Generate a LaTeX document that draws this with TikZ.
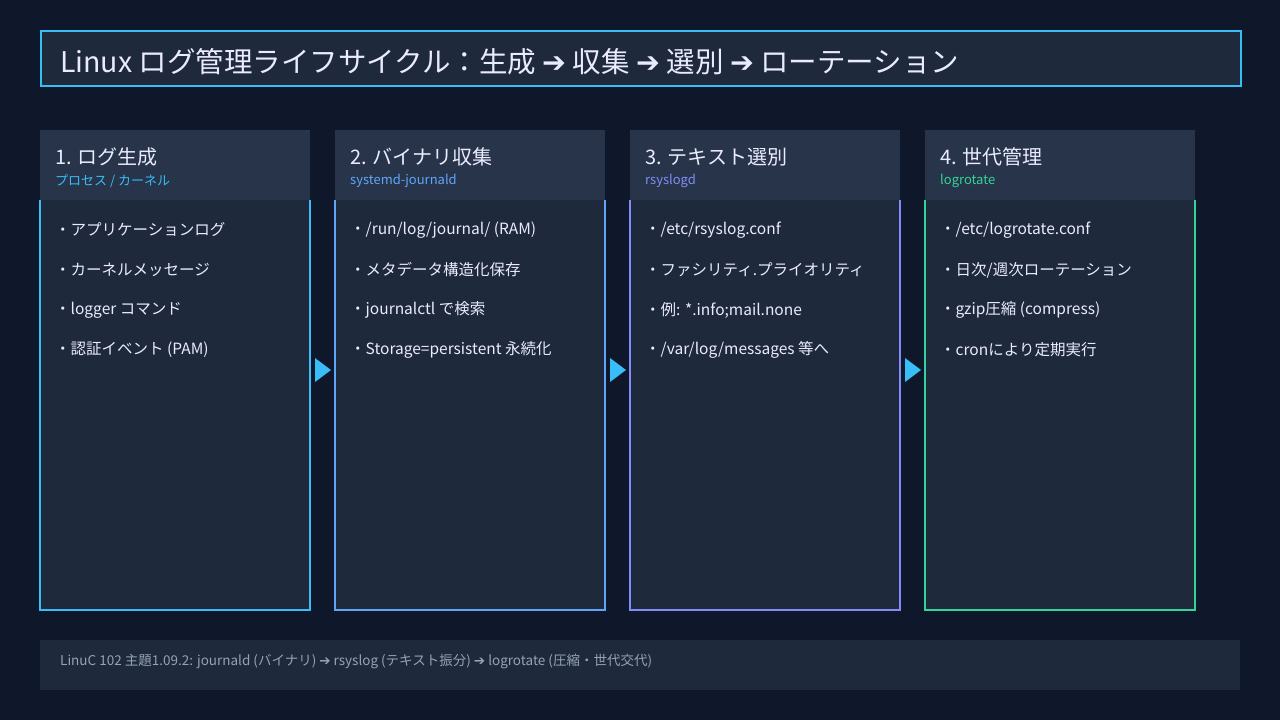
\documentclass[tikz,border=0pt]{standalone}
\usepackage{fontspec}
\setmainfont{Noto Sans CJK JP}
\newfontfamily\djv{DejaVu Sans}
\newcommand{\rarr}{{\djv ➔}}
\begin{document}
\begin{tikzpicture}[x=1pt,y=-1pt,
  txt/.style={anchor=west,inner sep=0pt,text=white!92!blue},
  hdr/.style={fill=hdrc,draw=none}]
\definecolor{bg}{HTML}{0F172A}
\definecolor{panel}{HTML}{1E293B}
\definecolor{hdrc}{HTML}{273449}
\definecolor{c1}{HTML}{38BDF8}
\definecolor{c2}{HTML}{60A5FA}
\definecolor{c3}{HTML}{818CF8}
\definecolor{c4}{HTML}{34D399}
\definecolor{gr}{HTML}{94A3B8}
\fill[bg] (0,0) rectangle (1280,720);
\useasboundingbox (0,0) rectangle (1280,720);
\node[draw=c1,line width=1.5pt,fill=panel,minimum width=1200pt,minimum height=55pt,anchor=north west,inner sep=0pt] (title) at (40,30) {};
\node[txt,font=\fontsize{28.5}{32}\selectfont] (tt) at (60,62) {Linux ログ管理ライフサイクル：生成 \rarr{} 収集 \rarr{} 選別 \rarr{} ローテーション};
\foreach \i/\x/\c/\h/\s/\a/\b/\cc/\d in {
 1/40/c1/{1. ログ生成}/{プロセス / カーネル}/{アプリケーションログ}/{カーネルメッセージ}/{logger コマンド}/{認証イベント (PAM)},
 2/335/c2/{2. バイナリ収集}/{systemd-journald}/{/run/log/journal/ (RAM)}/{メタデータ構造化保存}/{journalctl で検索}/{Storage=persistent 永続化},
 3/630/c3/{3. テキスト選別}/{rsyslogd}/{/etc/rsyslog.conf}/{ファシリティ.プライオリティ}/{例: *.info;mail.none}/{/var/log/messages 等へ},
 4/925/c4/{4. 世代管理}/{logrotate}/{/etc/logrotate.conf}/{日次/週次ローテーション}/{gzip圧縮 (compress)}/{cronにより定期実行}}{
  \fill[panel] (\x,200) rectangle ++(270,410);
  \draw[\c,line width=1.5pt] (\x,200) |- (\x+270,610) -- (\x+270,200);
  \node[hdr,minimum width=270pt,minimum height=70pt,anchor=north west,inner sep=0pt] (h\i) at (\x,130) {};
  \node[txt,font=\fontsize{20}{24}\selectfont] (t\i) at (\x+15,157) {\h};
  \node[txt,text=\c,font=\fontsize{13}{15}\selectfont] (s\i) at (\x+15,181) {\s};
  \node[txt,font=\fontsize{15.5}{18}\selectfont] (a\i) at (\x+15,230) {・\a};
  \node[txt,font=\fontsize{15.5}{18}\selectfont] (b\i) at (\x+15,270) {・\b};
  \node[txt,font=\fontsize{15.5}{18}\selectfont] (c\i) at (\x+15,310) {・\cc};
  \node[txt,font=\fontsize{15.5}{18}\selectfont] (d\i) at (\x+15,350) {・\d};
}
\foreach \x in {315,610,905}{ \fill[c1] (\x,358) -- (\x+16,370) -- (\x,382) -- cycle; }
\node[fill=panel,minimum width=1200pt,minimum height=50pt,anchor=north west,inner sep=0pt] (foot) at (40,640) {};
\node[txt,text=gr,font=\fontsize{13.5}{15}\selectfont] (ft) at (60,661) {LinuC 102 主題1.09.2: journald (バイナリ) \rarr{} rsyslog (テキスト振分) \rarr{} logrotate (圧縮・世代交代)};
\end{tikzpicture}
\end{document}
